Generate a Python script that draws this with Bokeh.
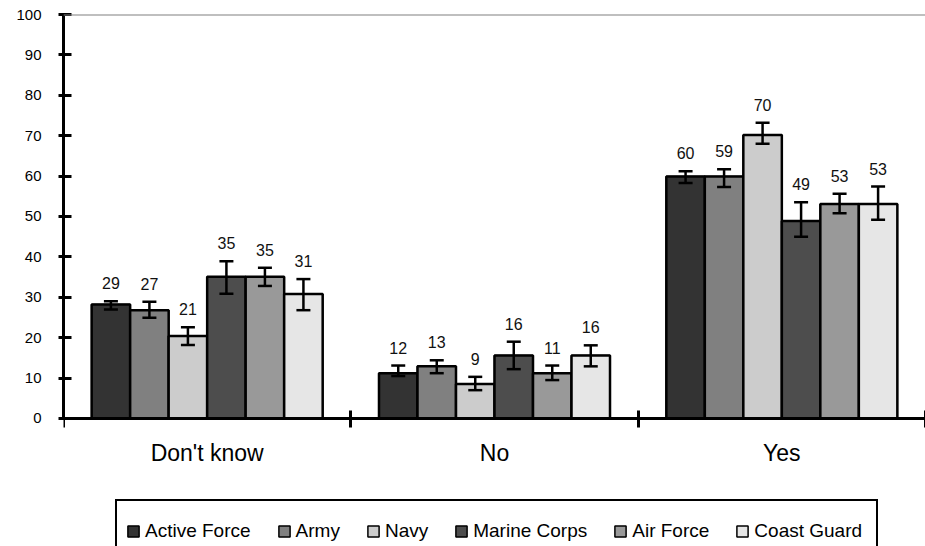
from bokeh.plotting import figure
from bokeh.models import (ColumnDataSource, Range1d, LinearAxis, FixedTicker,
                          Whisker, TeeHead, Span, Legend, LegendItem)
from bokeh.core.properties import value
from bokeh.embed import file_html
from bokeh.resources import INLINE

# ---------------- data ----------------
categories = ["Don't know", "No", "Yes"]
series = ["Active Force", "Army", "Navy", "Marine Corps", "Air Force", "Coast Guard"]
colors = ["#333333", "#808080", "#cccccc", "#4d4d4d", "#999999", "#e6e6e6"]

active_force = [28.2, 11.2, 59.9]
army = [26.8, 12.9, 59.9]
navy = [20.4, 8.5, 70.2]
marine_corps = [35.1, 15.6, 48.9]
air_force = [35.1, 11.2, 53.1]
coast_guard = [30.8, 15.6, 53.1]

active_force_lo = [27.0, 10.5, 58.3]
army_lo = [24.9, 11.2, 57.3]
navy_lo = [18.2, 7.0, 68.0]
marine_corps_lo = [30.9, 12.2, 45.0]
air_force_lo = [32.8, 9.5, 50.8]
coast_guard_lo = [26.8, 12.9, 49.2]

active_force_hi = [29.0, 13.1, 61.2]
army_hi = [28.9, 14.4, 61.7]
navy_hi = [22.6, 10.3, 73.2]
marine_corps_hi = [38.9, 19.0, 53.5]
air_force_hi = [37.3, 13.1, 55.6]
coast_guard_hi = [34.5, 18.1, 57.4]

active_force_lbl = ["29", "12", "60"]
army_lbl = ["27", "13", "59"]
navy_lbl = ["21", "9", "70"]
marine_corps_lbl = ["35", "16", "49"]
air_force_lbl = ["35", "11", "53"]
coast_guard_lbl = ["31", "16", "53"]

y_ticks = [0, 10, 20, 30, 40, 50, 60, 70, 80, 90, 100]

values = [active_force, army, navy, marine_corps, air_force, coast_guard]
lows = [active_force_lo, army_lo, navy_lo, marine_corps_lo, air_force_lo, coast_guard_lo]
highs = [active_force_hi, army_hi, navy_hi, marine_corps_hi, air_force_hi, coast_guard_hi]
labels = [active_force_lbl, army_lbl, navy_lbl, marine_corps_lbl, air_force_lbl, coast_guard_lbl]

FONT = "Liberation Sans"
BAR_W = 0.134
Y_MIN = -31.7   # room below zero for category labels and legend

p = figure(width=925, height=546, x_range=Range1d(0, len(categories)),
           y_range=Range1d(Y_MIN, 100), output_backend="svg", toolbar_location=None,
           x_axis_location=None, y_axis_location=None,
           min_border_left=63, min_border_right=0, min_border_top=14,
           min_border_bottom=0)
p.outline_line_color = None
p.background_fill_color = "white"
p.border_fill_color = "white"
p.grid.visible = False

# top border line (grey)
p.add_layout(Span(location=100, dimension="width", line_color="#808080", line_width=2))

ex, elo, ehi, elbl = [], [], [], []
legend_proxies = []
for j, name in enumerate(series):
    xs = [i + 0.5 + (j - 2.5) * BAR_W for i in range(len(categories))]
    src = ColumnDataSource(dict(x=xs, top=values[j]))
    # thin-outlined copy used for the legend swatch (hidden under the real bars)
    proxy = p.vbar(x="x", top="top", bottom=0, width=BAR_W, source=src,
                   fill_color=colors[j], line_color="black", line_width=1.5)
    legend_proxies.append(proxy)
    p.vbar(x="x", top="top", bottom=0, width=BAR_W, source=src, fill_color=colors[j],
           line_color="black", line_width=2.5)
    ex += xs
    elo += lows[j]
    ehi += highs[j]
    elbl += labels[j]

esrc = ColumnDataSource(dict(x=ex, lower=elo, upper=ehi, text=elbl))
p.add_layout(Whisker(base="x", lower="lower", upper="upper", source=esrc,
                     line_color="black", line_width=2.5, level="overlay",
                     upper_head=TeeHead(size=14, line_width=2.5, line_color="black"),
                     lower_head=TeeHead(size=14, line_width=2.5, line_color="black")))
p.text(x="x", y="upper", text="text", source=esrc, text_align="center",
       text_baseline="alphabetic", y_offset=-18, text_font=value(FONT),
       text_font_size="16px", text_color="#111111")

# axes
yaxis = LinearAxis(ticker=FixedTicker(ticks=y_ticks), bounds=(0, 100), axis_line_width=3,
                   major_tick_line_width=3, major_tick_in=8, major_tick_out=5,
                   minor_tick_line_color=None, major_label_standoff=17,
                   major_label_text_font=FONT, major_label_text_font_size="15px",
                   major_label_text_color="black")
p.add_layout(yaxis, "left")

centers = [i + 0.5 for i in range(len(categories))]
bounds = [float(i) for i in range(len(categories) + 1)]
xaxis = LinearAxis(ticker=FixedTicker(ticks=centers, minor_ticks=bounds),
                   fixed_location=0, bounds=(0, len(categories)),
                   major_label_overrides={c: lab for c, lab in zip(centers, categories)},
                   axis_line_width=3, major_tick_in=0, major_tick_out=0,
                   minor_tick_in=8, minor_tick_out=9, minor_tick_line_width=3,
                   minor_tick_line_color="black",
                   major_label_standoff=13, major_label_text_font=FONT,
                   major_label_text_font_size="23px", major_label_text_color="black")
p.add_layout(xaxis, "below")

# legend box (outer frame, bottom edge falls below the canvas)
dummy = p.scatter(x=[], y=[], alpha=0)
box = Legend(items=[LegendItem(label=" ", renderers=[dummy])], location=(52, -16),
             glyph_width=759, glyph_height=59, label_width=0, label_height=0,
             label_standoff=0, padding=0, spacing=0, margin=0,
             label_text_font_size="1px", border_line_color="black",
             border_line_alpha=1.0, border_line_width=2,
             background_fill_color="white", background_fill_alpha=1)
p.add_layout(box, "center")

# legend items
items = [LegendItem(label=name, renderers=[legend_proxies[j]])
         for j, name in enumerate(series)]
leg = Legend(items=items, location=(63, 4), orientation="horizontal",
             glyph_width=14, glyph_height=14, label_height=14, label_standoff=5,
             spacing=26, padding=0, margin=0, border_line_color=None,
             background_fill_alpha=0, label_text_font=FONT,
             label_text_font_size="19px", label_text_color="black")
p.add_layout(leg, "center")

open("out.html", "w").write(file_html(p, INLINE))
